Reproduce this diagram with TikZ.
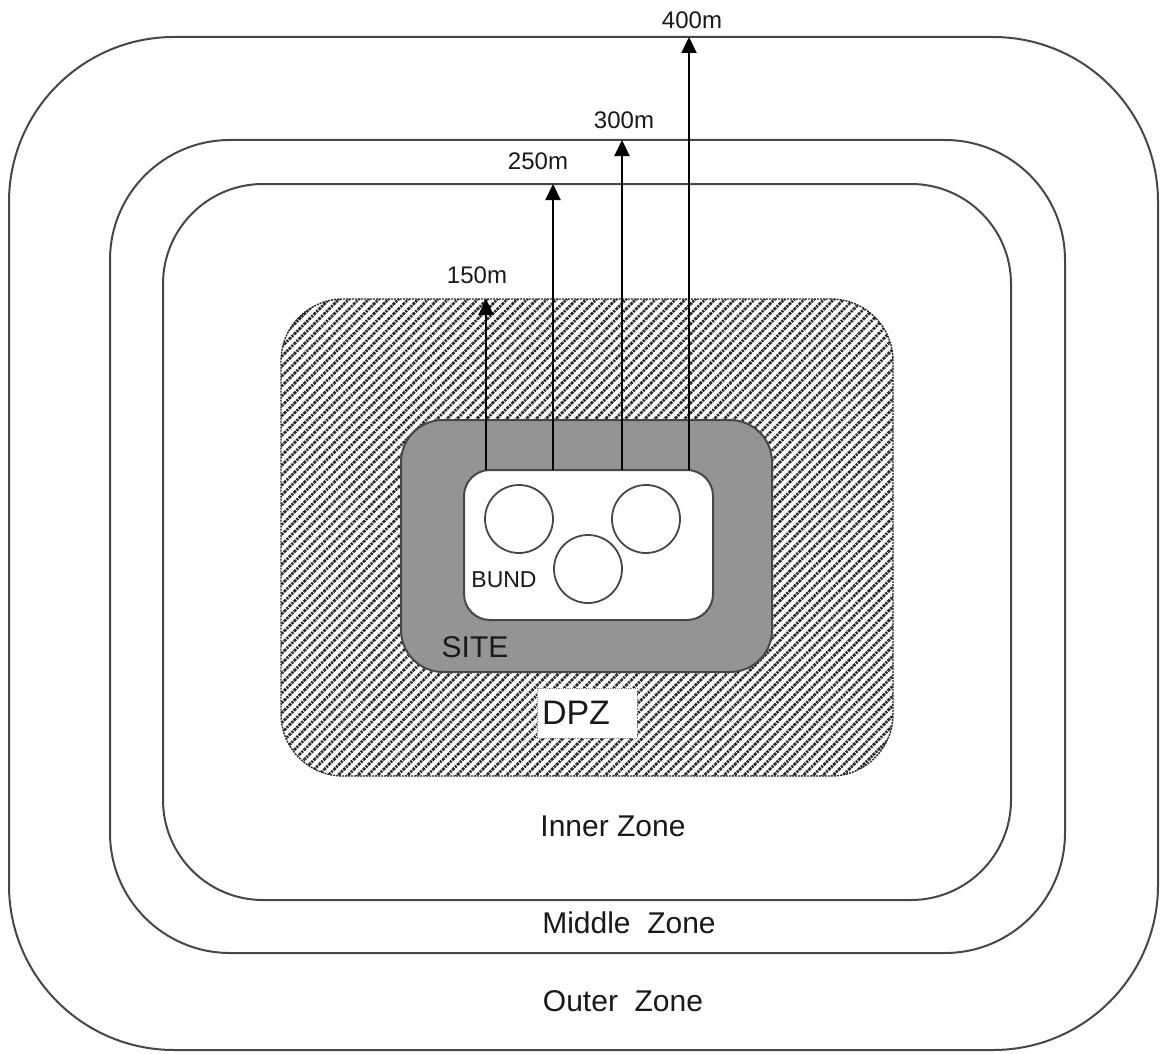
\documentclass[tikz,border=0pt]{standalone}
\usepackage{fontspec}
\setmainfont{Liberation Sans}
\usetikzlibrary{arrows.meta,patterns.meta}

\tikzset{
  zone/.style={draw=black!72, line width=2pt, inner sep=0pt, outer sep=0pt},
  hatched/.style={zone, draw=black!85, densely dotted, line width=1.4pt,
    preaction={fill=white},
    pattern={Lines[angle=45,distance=7pt,line width=2.8pt]}, pattern color=black!85},
  tank/.style={circle, draw=black!72, line width=1.8pt, fill=white, minimum size=68pt, inner sep=0pt},
  distarrow/.style={line width=2.2pt, -{Triangle[length=16pt,width=15pt]}},
  distlbl/.style={font=\fontsize{24}{26}\selectfont, text=black!90},
  zonelbl/.style={font=\fontsize{30}{32}\selectfont, text=black!90}
}

\begin{document}
\begin{tikzpicture}[x=1pt, y=-1pt]
    \useasboundingbox[fill=white] (0,0) rectangle (1164,1054);

    % zones
    \node[zone, rounded corners=165pt, minimum width=1149pt, minimum height=1013pt] (outer) at (583.5,543.5) {};
    \node[zone, rounded corners=120pt, minimum width=955pt, minimum height=813pt] (middle) at (587.5,546.5) {};
    \node[zone, rounded corners=100pt, minimum width=848pt, minimum height=716pt] (inner) at (587,542) {};

    % DPZ
    \node[hatched, rounded corners=62pt, minimum width=612pt, minimum height=477pt] (dpz) at (587,537.5) {};
    \node[fill=white, draw=black!50, densely dotted, line width=0.8pt, minimum width=100pt, minimum height=50pt, inner sep=0pt] (dpzbox) at (587,713) {};
    \node[font=\fontsize{34}{36}\selectfont, text=black!90] (dpzlbl) at (576,713) {DPZ};

    % site and bund
    \node[zone, fill=black!42, rounded corners=42pt, minimum width=371pt, minimum height=252pt] (site) at (586.5,546) {};
    \node[zone, fill=white, rounded corners=26pt, minimum width=249pt, minimum height=150pt] (bund) at (588.5,545) {};
    \node[tank] (tank1) at (519,519) {};
    \node[tank] (tank2) at (646,519) {};
    \node[tank] (tank3) at (588,569) {};
    \node[font=\fontsize{23}{25}\selectfont, text=black!90] (bundlbl) at (504,580) {BUND};
    \node[font=\fontsize{30}{32}\selectfont, text=black!90] (sitelbl) at (475,647) {SITE};

    % distances
    \foreach \x/\z/\d/\dx/\dy in {486/dpz/150/-9/24, 553/inner/250/-15/23, 622/middle/300/2/20, 689/outer/400/3/17} {
        \coordinate (c\d) at (\x,0);
        \draw[distarrow] (bund.north -| c\d) -- (\z.north -| c\d);
        \node[distlbl] (l\d) at ([xshift=\dx pt, yshift=\dy pt]\z.north -| c\d) {\d m};
    }

    % zone names
    \node[zonelbl] (innerlbl) at (613,826) {Inner Zone};
    \node[zonelbl] (middlelbl) at (629,923) {Middle\ \ Zone};
    \node[zonelbl] (outerlbl) at (623,1001) {Outer\ \ Zone};
\end{tikzpicture}
\end{document}
